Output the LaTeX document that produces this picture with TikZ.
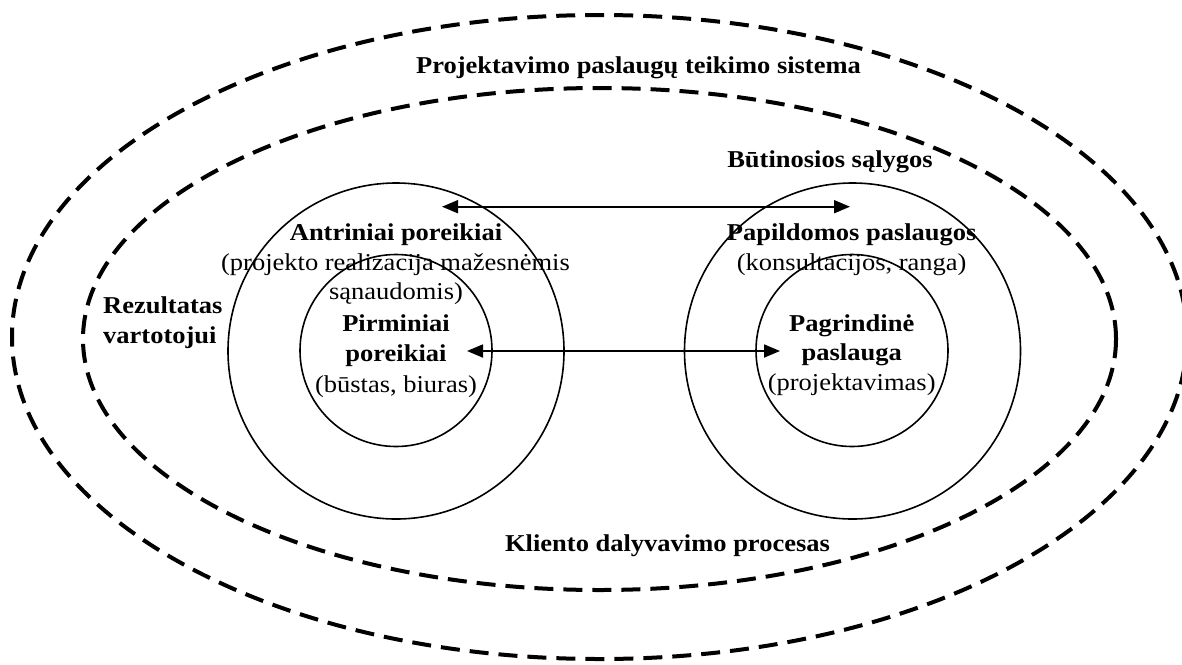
\documentclass[tikz,border=0pt]{standalone}
\usepackage{fontspec}
\setmainfont{Liberation Serif}[FakeStretch=1.095]
\usetikzlibrary{arrows.meta}
\tikzset{
  ring/.style={draw, circle, line width=1.6pt, inner sep=0pt},
  zone/.style={line width=4pt, dash pattern=on 19pt off 10pt},
  link/.style={line width=1.8pt, {Triangle[length=16pt,width=13pt]}-{Triangle[length=16pt,width=13pt]}},
  txt/.style={anchor=base, inner sep=0pt, font=\fontsize{24.2}{30.5}\selectfont},
  btxt/.style={txt, font=\fontsize{24.2}{30.5}\selectfont\bfseries},
}
\begin{document}
\begin{tikzpicture}[x=1pt,y=-1pt]
\useasboundingbox (0,0) rectangle (1182,664);
% dashed zones
\draw[zone] (599.5,337) ellipse [x radius=587.5pt, y radius=322pt];
\draw[zone] (599.5,339) ellipse [x radius=516.5pt, y radius=251pt];
% circles
\node[ring, minimum size=336pt] (LB) at (396,351) {};
\node[ring, minimum size=192pt] (LS) at (396,350.5) {};
\node[ring, minimum size=336pt] (RB) at (852.5,351) {};
\node[ring, minimum size=192pt] (RS) at (852,350.5) {};
% arrows
\coordinate (a1) at (442,206.7);
\coordinate (a2) at (850,206.7);
\coordinate (b1) at (467,351);
\coordinate (b2) at (780,351);
\draw[link] (a1) -- (a2);
\draw[link] (b1) -- (b2);
% texts
\node[btxt] (t1) at (638.5,73) {Projektavimo paslaugų teikimo sistema};
\node[btxt] (t2) at (830,167) {Būtinosios sąlygos};
\node[btxt] (t3) at (396,240.5) {Antriniai poreikiai};
\node[txt] (t4) at (395.5,270) {(projekto realizacija mažesnėmis};
\node[txt] (t5) at (396,299.5) {sąnaudomis)};
\node[btxt] (t6) at (396,331.5) {Pirminiai};
\node[btxt] (t7) at (396,361.5) {poreikiai};
\node[txt] (t8) at (396,392.5) {(būstas, biuras)};
\node[btxt] (t9) at (851.7,240.5) {Papildomos paslaugos};
\node[txt] (t10) at (851.7,270) {(konsultacijos, ranga)};
\node[btxt] (t11) at (851.7,331) {Pagrindinė};
\node[btxt] (t12) at (851.7,360.5) {paslauga};
\node[txt] (t13) at (851.7,390.5) {(projektavimas)};
\node[btxt, anchor=base west] (t14) at (103,313.3) {Rezultatas};
\node[btxt, anchor=base west] (t15) at (103,343.3) {vartotojui};
\node[btxt] (t16) at (667.5,551.7) {Kliento dalyvavimo procesas};
\end{tikzpicture}
\end{document}
